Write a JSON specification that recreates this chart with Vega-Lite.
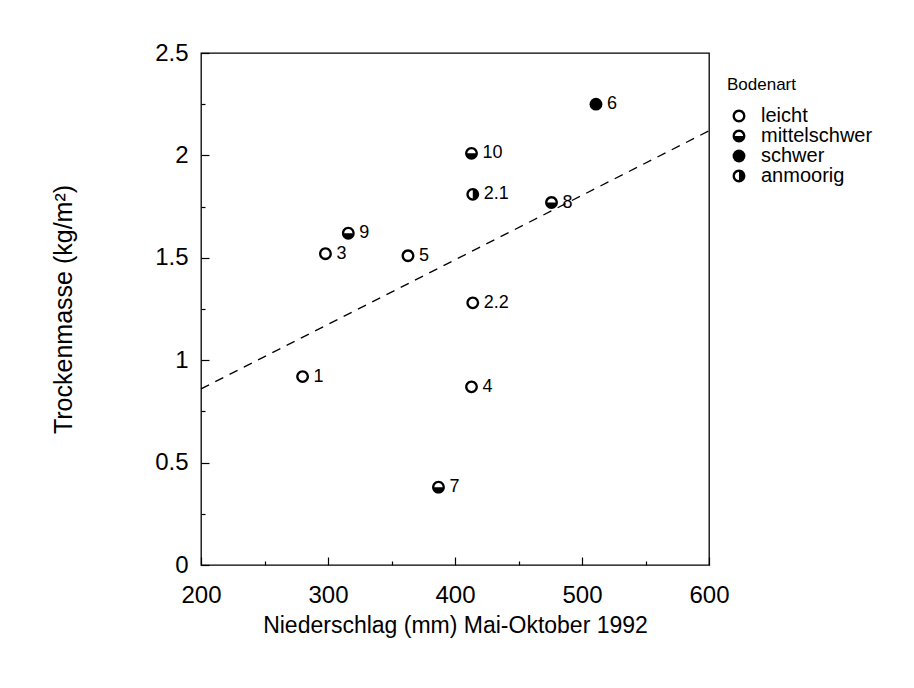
{
  "$schema": "https://vega.github.io/schema/vega-lite/v6.json",
  "width": 508,
  "height": 512,
  "autosize": {"type": "none"},
  "padding": {"left": 201, "top": 53, "right": 205, "bottom": 123},
  "background": "white",
  "config": {
    "font": "Liberation Sans",
    "view": {"stroke": "black", "strokeWidth": 1.3},
    "axis": {"domain": false, "grid": false, "labelFlush": false, "tickColor": "black", "labelColor": "black", "titleColor": "black", "labelFont": "Liberation Sans", "titleFont": "Liberation Sans", "titleFontWeight": "normal"}
  },
  "datasets": {
    "pts": [
      {"id": "1", "niederschlag": 280, "trockenmasse": 0.92, "bodenart": "leicht"},
      {"id": "3", "niederschlag": 298, "trockenmasse": 1.52, "bodenart": "leicht"},
      {"id": "5", "niederschlag": 363, "trockenmasse": 1.51, "bodenart": "leicht"},
      {"id": "2.2", "niederschlag": 414, "trockenmasse": 1.28, "bodenart": "leicht"},
      {"id": "4", "niederschlag": 413, "trockenmasse": 0.87, "bodenart": "leicht"},
      {"id": "10", "niederschlag": 413, "trockenmasse": 2.01, "bodenart": "mittelschwer"},
      {"id": "9", "niederschlag": 316, "trockenmasse": 1.62, "bodenart": "mittelschwer"},
      {"id": "8", "niederschlag": 476, "trockenmasse": 1.77, "bodenart": "mittelschwer"},
      {"id": "7", "niederschlag": 387, "trockenmasse": 0.38, "bodenart": "mittelschwer"},
      {"id": "6", "niederschlag": 511, "trockenmasse": 2.25, "bodenart": "schwer"},
      {"id": "2.1", "niederschlag": 414, "trockenmasse": 1.81, "bodenart": "anmoorig"}
    ],
    "fit": [
      {"niederschlag": 200, "trockenmasse": 0.86},
      {"niederschlag": 600, "trockenmasse": 2.12}
    ]
  },
  "layer": [
    {
      "data": {"name": "fit"},
      "mark": {"type": "line", "color": "black", "strokeWidth": 1.3, "strokeDash": [9, 7]},
      "encoding": {
        "x": {"field": "niederschlag", "type": "quantitative"},
        "y": {"field": "trockenmasse", "type": "quantitative"}
      }
    },
    {
      "data": {"name": "pts"},
      "mark": {"type": "point", "filled": true, "color": "black", "size": 165, "opacity": 1, "strokeWidth": 0},
      "encoding": {
        "x": {
          "field": "niederschlag", "type": "quantitative",
          "scale": {"domain": [200, 600], "nice": false, "zero": false},
          "axis": {
            "title": "Niederschlag (mm) Mai-Oktober 1992",
            "titleFontSize": 23, "titlePadding": 7,
            "values": [200, 250, 300, 350, 400, 450, 500, 550, 600],
            "labelExpr": "datum.value % 100 === 0 ? '' + datum.value : ''",
            "labelFontSize": 24, "labelPadding": 26,
            "tickSize": {"condition": {"test": "datum.value % 100 === 0", "value": -8}, "value": -4},
            "tickWidth": 1.2
          }
        },
        "y": {
          "field": "trockenmasse", "type": "quantitative",
          "scale": {"domain": [0, 2.5], "nice": false},
          "axis": {
            "title": "Trockenmasse (kg/m²)",
            "titleFontSize": 25, "titlePadding": 78,
            "values": [0, 0.25, 0.5, 0.75, 1, 1.25, 1.5, 1.75, 2, 2.25, 2.5],
            "labelExpr": "(datum.value * 4) % 2 === 0 ? '' + datum.value : ''",
            "labelFontSize": 24, "labelPadding": 21,
            "tickSize": {"condition": {"test": "(datum.value * 4) % 2 === 0", "value": -8}, "value": -4},
            "tickWidth": 1.2
          }
        },
        "shape": {
          "field": "bodenart", "type": "nominal",
          "scale": {
            "domain": ["leicht", "mittelschwer", "schwer", "anmoorig"],
            "range": [
              "M -1 0 A 1 1 0 1 1 1 0 A 1 1 0 1 1 -1 0 Z M -0.64 0 A 0.64 0.64 0 1 0 0.64 0 A 0.64 0.64 0 1 0 -0.64 0 Z",
              "M -1 0 A 1 1 0 1 1 1 0 A 1 1 0 1 1 -1 0 Z M -0.64 0 A 0.64 0.64 0 1 0 0.64 0 A 0.64 0.64 0 1 0 -0.64 0 Z M 0.64 0 A 0.64 0.64 0 0 1 -0.64 0 Z",
              "circle",
              "M -1 0 A 1 1 0 1 1 1 0 A 1 1 0 1 1 -1 0 Z M -0.64 0 A 0.64 0.64 0 1 0 0.64 0 A 0.64 0.64 0 1 0 -0.64 0 Z M 0 -0.64 A 0.64 0.64 0 0 1 0 0.64 Z"
            ]
          },
          "legend": {
            "title": "Bodenart", "orient": "none", "legendX": 526, "legendY": 24,
            "titleFontSize": 17, "titleFontWeight": "normal", "titleColor": "black", "titlePadding": 12,
            "labelFontSize": 20, "labelColor": "black", "labelOffset": 12,
            "symbolSize": 165, "symbolFillColor": "black", "symbolStrokeWidth": 0, "symbolOpacity": 1,
            "rowPadding": 0, "symbolOffset": 2
          }
        }
      }
    },
    {
      "data": {"name": "pts"},
      "mark": {"type": "text", "align": "left", "baseline": "middle", "dx": 11, "fontSize": 18, "color": "black"},
      "encoding": {
        "x": {"field": "niederschlag", "type": "quantitative"},
        "y": {"field": "trockenmasse", "type": "quantitative"},
        "text": {"field": "id", "type": "nominal"}
      }
    }
  ]
}
